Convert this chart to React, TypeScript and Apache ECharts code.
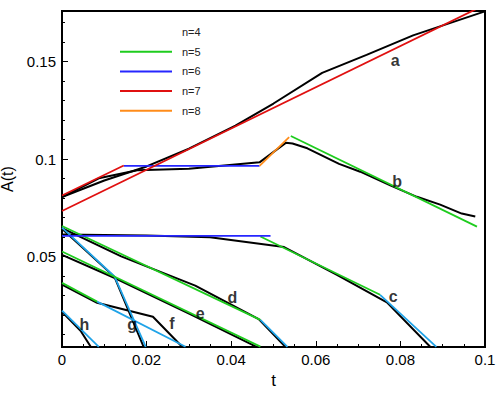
import React, { useEffect, useRef } from "react";
import * as echarts from "echarts";

const FONT = "Liberation Sans, Arial, Helvetica, sans-serif";

const xTickStep = 0.02;
const yLabelValues = [0.05, 0.1, 0.15];
const yMinorValues = [0.01, 0.02, 0.03, 0.04, 0.06, 0.07, 0.08, 0.09, 0.11, 0.12, 0.13, 0.14, 0.16, 0.17];

// black (reference) curves
const aExact = [[0, 0.0805], [0.01, 0.089], [0.02, 0.0962], [0.03, 0.1053], [0.041, 0.1172], [0.05, 0.1285], [0.0615, 0.1442], [0.072, 0.1535], [0.083, 0.1635], [0.0998, 0.1757]];
const bExact = [[0, 0.0805], [0.0087, 0.0901], [0.0178, 0.0942], [0.03, 0.095], [0.0467, 0.0983], [0.0529, 0.1083], [0.0545, 0.108], [0.058, 0.1055], [0.0655, 0.0975], [0.0705, 0.0935], [0.0776, 0.0865], [0.0839, 0.0806], [0.0894, 0.0766], [0.0945, 0.072], [0.0977, 0.0705]];
const cExact = [[0, 0.0613], [0.02, 0.0607], [0.035, 0.0598], [0.0525, 0.0548], [0.065, 0.0405], [0.0768, 0.0264], [0.0871, 0.0035]];
const dExact = [[0, 0.0645], [0.014, 0.05], [0.0315, 0.035], [0.0465, 0.0178], [0.0528, 0.0036]];
const eExact = [[0, 0.0508], [0.0126, 0.0388], [0.0304, 0.0202], [0.046, 0.0036]];
const fExact = [[0, 0.0355], [0.0083, 0.0262], [0.0215, 0.019], [0.0284, 0.0036]];
const gExact = [[0, 0.0642], [0.0124, 0.0395], [0.0193, 0.0036]];
const hExact = [[0, 0.0216], [0.0045, 0.0115], [0.0068, 0.0036]];

// n=7 (red)
const aN7 = [[0, 0.0733], [0.1, 0.1792]];
const bN7 = [[0, 0.0813], [0.0146, 0.0967]];
// n=6 (blue)
const bN6 = [[0.0146, 0.0965], [0.0467, 0.0965]];
const cN6 = [[0, 0.0605], [0.0493, 0.0605]];
// n=8 (orange)
const bN8 = [[0.0467, 0.0965], [0.0537, 0.1113]];
// n=5 (green)
const bN5 = [[0.0541, 0.1118], [0.0981, 0.0653]];
const cN5 = [[0.0469, 0.0602], [0.0752, 0.0303]];
const dN5 = [[0, 0.0656], [0.0469, 0.0174]];
const eN5 = [[0, 0.0525], [0.0469, 0.0037]];
const fN5 = [[0, 0.0364], [0.0083, 0.0268]];
// n=4 (cyan)
const cN4 = [[0.0752, 0.0303], [0.0885, 0.0036]];
const dN4 = [[0.0469, 0.0174], [0.0533, 0.0036]];
const fN4 = [[0.0083, 0.0268], [0.0292, 0.0036]];
const gN4 = [[0, 0.0648], [0.0124, 0.0397], [0.0198, 0.0036]];
const hN4 = [[0, 0.0222], [0.0087, 0.0036]];

const curveLabels = ["a", "b", "c", "d", "e", "f", "g", "h"];
const labelT = [0.0788, 0.0792, 0.0783, 0.0403, 0.0327, 0.026, 0.0166, 0.0053];
const labelA = [0.1508, 0.0887, 0.0292, 0.0287, 0.0205, 0.0157, 0.0149, 0.0152];

const legendNames = ["n=4", "n=5", "n=6", "n=7", "n=8"];
const colors: Record<string, string> = {
  exact: "#000000",
  "n=4": "#1fa3e8",
  "n=5": "#1ecc1e",
  "n=6": "#2626ff",
  "n=7": "#e01010",
  "n=8": "#ff8c1a",
};

export default function App() {
  const ref = useRef<HTMLDivElement>(null);
  useEffect(() => {
    if (!ref.current) return;
    const chart = echarts.init(ref.current, null, { renderer: "svg" });

    const seg = (name: string, data: number[][], width: number, z: number) => ({
      type: "line",
      name,
      data,
      symbol: "none",
      showSymbol: false,
      lineStyle: { color: colors[name], width },
      itemStyle: { color: colors[name] },
      z,
      silent: true,
    });

    const series: any[] = [];
    [aExact, bExact, cExact, dExact, eExact, fExact, gExact, hExact].forEach((d) =>
      series.push(seg("exact", d, 2, 2))
    );
    [cN4, dN4, fN4, gN4, hN4].forEach((d) => series.push(seg("n=4", d, 1.8, 3)));
    [bN5, cN5, dN5, eN5, fN5].forEach((d) => series.push(seg("n=5", d, 1.8, 3)));
    [bN6, cN6].forEach((d) => series.push(seg("n=6", d, 1.8, 3)));
    [aN7, bN7].forEach((d) => series.push(seg("n=7", d, 1.8, 3)));
    [bN8].forEach((d) => series.push(seg("n=8", d, 1.8, 3)));

    series.push({
      type: "scatter",
      name: "labels",
      symbolSize: 0,
      silent: true,
      z: 5,
      data: curveLabels.map((n, i) => ({ value: [labelT[i], labelA[i]], name: n })),
      label: {
        show: true,
        position: "inside",
        formatter: (p: any) => p.name,
        color: "#000",
        fontSize: 16,
        fontWeight: "bold",
        fontFamily: FONT,
      },
    });

    const axisFont = { color: "#000", fontSize: 15, fontFamily: FONT };

    chart.setOption({
      animation: false,
      backgroundColor: "#fff",
      grid: {
        left: 62,
        right: 13,
        top: 11,
        bottom: 47,
        show: true,
        borderColor: "#000",
        borderWidth: 2,
        containLabel: false,
        outerBoundsMode: "none",
      },
      legend: {
        orient: "vertical",
        left: 120,
        top: 26,
        padding: 0,
        icon: "rect",
        itemWidth: 52,
        itemHeight: 2,
        itemGap: 7.7,
        data: legendNames.map((n) =>
          n === "n=4" ? { name: n, itemStyle: { opacity: 0 } } : { name: n }
        ),
        textStyle: { color: "#222", fontSize: 11, lineHeight: 12, fontFamily: FONT, padding: [0, 0, 0, 5] },
        selectedMode: false,
      },
      xAxis: {
        type: "value",
        min: 0,
        max: 0.1,
        interval: xTickStep,
        name: "t",
        nameLocation: "middle",
        nameGap: 22,
        nameTextStyle: { color: "#000", fontSize: 17, fontFamily: FONT },
        axisLine: { show: true, lineStyle: { color: "#000", width: 2 } },
        axisTick: { show: true, inside: true, length: 6, lineStyle: { color: "#000", width: 1 } },
        minorTick: { show: true, splitNumber: 4, length: 3, lineStyle: { color: "#000", width: 1 } },
        splitLine: { show: false },
        minorSplitLine: { show: false },
        axisLabel: { ...axisFont, margin: 5, formatter: (v: number) => String(+v.toFixed(4)) },
      },
      yAxis: [
        {
          type: "value",
          min: 0.0035,
          max: 0.176,
          name: "A(t)",
          nameLocation: "middle",
          nameGap: 31,
          nameRotate: 90,
          nameTextStyle: { color: "#000", fontSize: 16, fontFamily: FONT },
          axisLine: { show: true, lineStyle: { color: "#000", width: 2 } },
          axisTick: {
            show: true,
            inside: true,
            length: 6,
            customValues: yLabelValues,
            lineStyle: { color: "#000", width: 1 },
          },
          axisLabel: {
            ...axisFont,
            margin: 6,
            customValues: yLabelValues,
            formatter: (v: number) => String(+v.toFixed(4)),
          },
          splitLine: { show: false },
        },
        {
          type: "value",
          min: 0.0035,
          max: 0.176,
          position: "left",
          axisLine: { show: false },
          axisLabel: { show: false },
          axisTick: {
            show: true,
            inside: true,
            length: 3,
            customValues: yMinorValues,
            lineStyle: { color: "#000", width: 1 },
          },
          splitLine: { show: false },
        },
      ],
      series,
    });

    return () => chart.dispose();
  }, []);

  return <div ref={ref} style={{ width: 498, height: 394, position: "absolute", left: 0, top: 0 }} />;
}
